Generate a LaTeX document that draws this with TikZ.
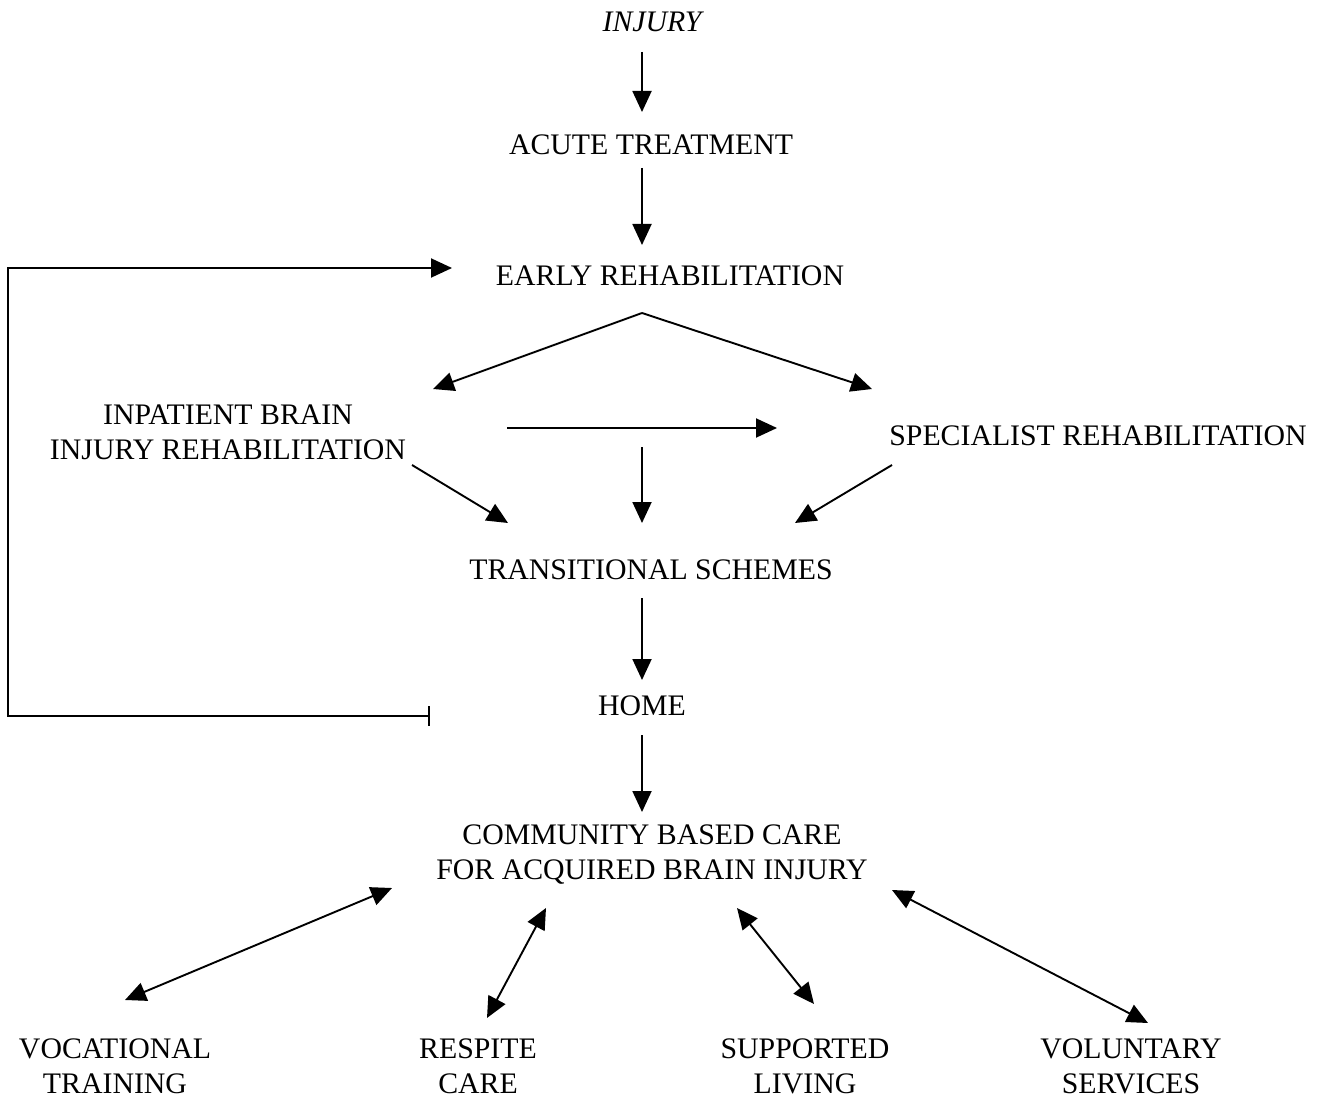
\documentclass[tikz,border=0pt]{standalone}
\usepackage{fontspec}
\setmainfont{Liberation Serif}
\usetikzlibrary{arrows.meta}
\tikzset{
  lbl/.style={inner sep=0pt, align=center, font=\fontsize{29.8}{35}\selectfont},
  arr/.style={line width=1.9pt, -{Triangle[length=21pt,width=19pt]}},
  darr/.style={line width=1.9pt, {Triangle[length=21pt,width=19pt]}-{Triangle[length=21pt,width=19pt]}},
  loopln/.style={line width=1.9pt, {Bar[width=20pt,line width=1.9pt]}-{Triangle[length=21pt,width=19pt]}}
}
\begin{document}
\begin{tikzpicture}[x=1pt,y=-1pt]
\useasboundingbox (0,0) rectangle (1324,1099);
\node[lbl, font=\fontsize{29.8}{35}\selectfont\itshape] (injury) at (652,22) {INJURY};
\node[lbl] (acute) at (651,145) {ACUTE TREATMENT};
\node[lbl] (early) at (670,276) {EARLY REHABILITATION};
\node[lbl] (inpat) at (228,432) {INPATIENT BRAIN\\INJURY REHABILITATION};
\node[lbl] (spec) at (1098,436) {SPECIALIST REHABILITATION};
\node[lbl] (trans) at (651,570) {TRANSITIONAL SCHEMES};
\node[lbl] (home) at (642,706) {HOME};
\node[lbl] (comm) at (652,855) {COMMUNITY BASED CARE\\FOR ACQUIRED BRAIN INJURY};
\node[lbl] (voc) at (115,1066) {VOCATIONAL\\TRAINING};
\node[lbl] (resp) at (478,1066) {RESPITE\\CARE};
\node[lbl] (supp) at (805,1066) {SUPPORTED\\LIVING};
\node[lbl] (vol) at (1131,1066) {VOLUNTARY\\SERVICES};

% endpoints
\coordinate (a1s) at (642,52);   \coordinate (a1e) at (642,112);
\coordinate (a2s) at (642,168);  \coordinate (a2e) at (642,245);
\coordinate (lps) at (430,716);  \coordinate (lpc) at (8,268); \coordinate (lpe) at (452,268);
\coordinate (apex) at (642,313);
\coordinate (b1e) at (433,389);  \coordinate (b2e) at (872,389);
\coordinate (hs) at (507,428);   \coordinate (he) at (777,428);
\coordinate (vs) at (642,447);   \coordinate (ve) at (642,523);
\coordinate (ls) at (412,465);   \coordinate (le) at (508,523);
\coordinate (rs) at (892,465);   \coordinate (re) at (795,523);
\coordinate (t1s) at (642,598);  \coordinate (t1e) at (642,680);
\coordinate (h1s) at (642,735);  \coordinate (h1e) at (642,812);
\coordinate (d1a) at (125,1000); \coordinate (d1b) at (392,888);
\coordinate (d2a) at (487,1018); \coordinate (d2b) at (546,908);
\coordinate (d3a) at (814,1004); \coordinate (d3b) at (737,908);
\coordinate (d4a) at (1148,1023);\coordinate (d4b) at (892,890);

\draw[arr] (a1s) -- (a1e);
\draw[arr] (a2s) -- (a2e);
\draw[loopln] (lps) -| (lpc) -- (lpe);
\draw[arr] (apex) -- (b1e);
\draw[arr] (apex) -- (b2e);
\draw[arr] (hs) -- (he);
\draw[arr] (vs) -- (ve);
\draw[arr] (ls) -- (le);
\draw[arr] (rs) -- (re);
\draw[arr] (t1s) -- (t1e);
\draw[arr] (h1s) -- (h1e);
\draw[darr] (d1a) -- (d1b);
\draw[darr] (d2a) -- (d2b);
\draw[darr] (d3a) -- (d3b);
\draw[darr] (d4a) -- (d4b);
\end{tikzpicture}
\end{document}
